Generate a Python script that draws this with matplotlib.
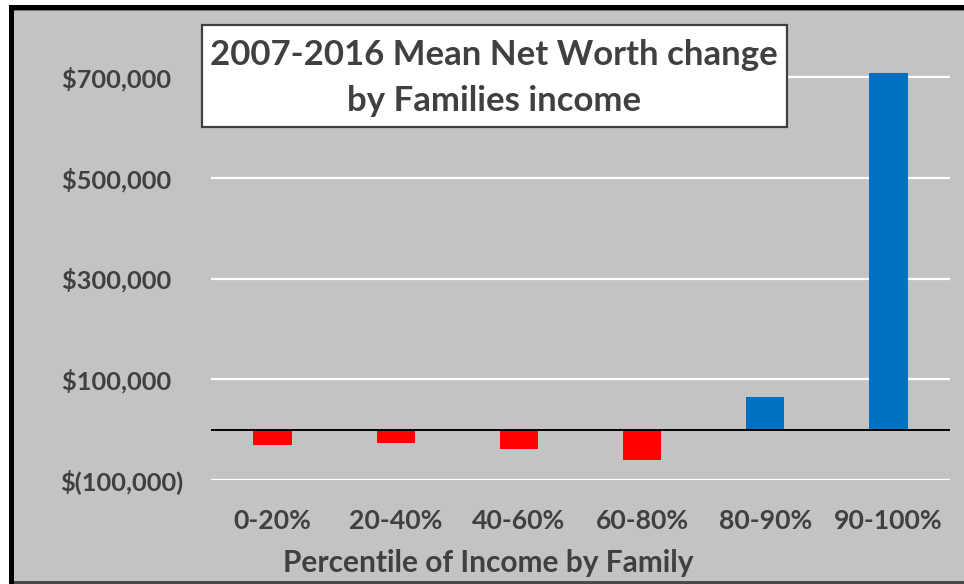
from matplotlib import pyplot as plt
from matplotlib import ticker as mtick
from matplotlib.patches import Rectangle
import numpy as np

# faixas de renda e variação média do patrimônio líquido (US$)
percentis = ['0-20%', '20-40%', '40-60%', '60-80%', '80-90%', '90-100%']
variacao = [-30000, -26000, -38000, -61000, 65000, 709000]

grid_ticks = [-100000, 100000, 300000, 500000, 700000]

# cores
fundo = '#c3c3c3'
texto = '#404040'
vermelho = '#ff0000'
azul = '#0070c0'

plt.rcParams['font.family'] = ['Lato', 'DejaVu Sans']
plt.rcParams['font.weight'] = 'bold'

W, H = 964, 584
fig = plt.figure(figsize=(W / 100, H / 100), dpi=100, facecolor='white')


def px(x0, y0, x1, y1):
    """retângulo em pixels (origem no topo) -> coordenadas da figura"""
    return (x0 / W, 1 - y1 / H), (x1 - x0) / W, (y1 - y0) / H


# moldura do gráfico
for (x0, y0, x1, y1), cor in [((9, 5, W, H), 'black'),
                              ((14, 10, W, 581), fundo),
                              ((14, 10, W, 11), '#6e6e6e'),
                              ((14, 581, W, H), '#4a4a4a')]:
    xy, w, h = px(x0, y0, x1, y1)
    fig.patches.append(Rectangle(xy, w, h, transform=fig.transFigure,
                                 facecolor=cor, edgecolor='none', zorder=-5))

ax = fig.add_axes([211 / W, (H - 480) / H, 739 / W, 409 / H])
ax.set_facecolor('none')
ax.set_zorder(2)

x = np.arange(len(percentis))
cores = [azul if v > 0 else vermelho for v in variacao]
ax.bar(x, variacao, width=0.31, color=cores, zorder=3, clip_on=False)

ax.set_xlim(-0.5, len(percentis) - 0.5)
ax.set_ylim(-100000, 712000)

# linhas de grade brancas e linha do zero
for t in grid_ticks:
    ax.axhline(t, color='white', lw=1.6, zorder=1)
ax.axhline(0, color='black', lw=1.4, zorder=4)

ax.set_yticks(grid_ticks)


def moeda(v, pos):
    # formato contábil: negativos entre parênteses
    if v < 0:
        return '$({:,.0f})'.format(-v)
    return '${:,.0f}  '.format(v)


ax.yaxis.set_major_formatter(mtick.FuncFormatter(moeda))
ax.set_xticks(x)
ax.set_xticklabels(percentis)

ax.tick_params(axis='y', length=0, pad=20, labelsize=18.3, labelcolor=texto)
ax.tick_params(axis='x', length=0, pad=21, labelsize=19.2, labelcolor=texto)

# remoção de linhas de borda
for s in ax.spines.values():
    s.set_visible(False)

fig.text(488 / W, 1 - 563 / H, 'Percentile of Income by Family',
         ha='center', va='center', fontsize=21.5, color=texto, fontweight='bold')

# caixa do título
xy, w, h = px(202, 25, 787, 127)
fig.patches.append(Rectangle(xy, w, h, transform=fig.transFigure,
                             facecolor='white', edgecolor=texto, lw=1.6, zorder=5))
fig.text(494 / W, 1 - 78 / H, '2007-2016 Mean Net Worth change\nby Families income',
         ha='center', va='center', fontsize=25, color=texto, fontweight='bold',
         linespacing=1.55, zorder=6)

fig.savefig('out.png', dpi=100, facecolor='white')
